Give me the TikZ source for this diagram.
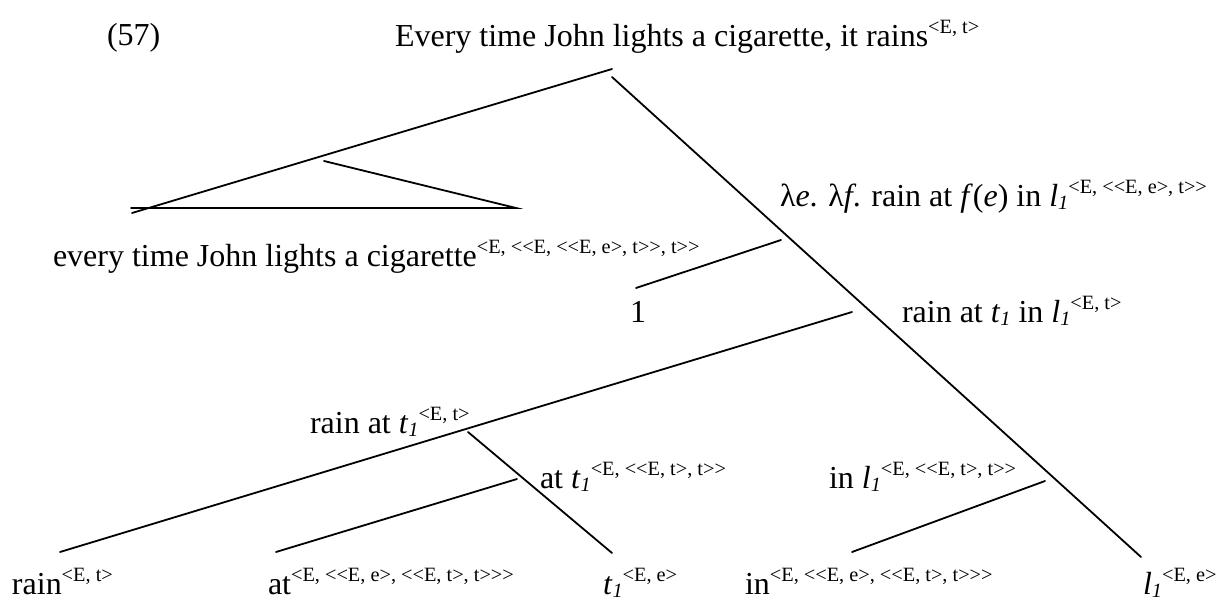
\documentclass[tikz,border=0pt]{standalone}
\usepackage{fontspec}
\setmainfont{Liberation Serif}[Ligatures=TeXOff]
\usetikzlibrary{calc}

\newcommand{\semtype}[1]{\raisebox{13pt}{\fontsize{20.3}{22}\selectfont #1}}
\newcommand{\lowidx}[1]{\raisebox{-3pt}{\fontsize{20.3}{22}\selectfont\itshape #1}}

\begin{document}
\begin{tikzpicture}[x=1pt, y=-1pt,
	every node/.style={inner sep=0pt, outer sep=0pt, anchor=base west, font=\fontsize{32}{38}\selectfont},
	branch/.style={line width=1.8pt, line cap=round}]
	
	\useasboundingbox (0,0) rectangle (1222,601);
	
	% heading and root
	\node (num) at (107,46) {(57)};
	\node (title) at (395,47) {Every time John lights a cigarette, it rains\semtype{<E, t>}};
	
	% end points of the branches
	\coordinate (top-l) at (612,69);
	\coordinate (top-r) at (612,77);
	\coordinate (every-end) at (132,213);
	\coordinate (tri-apex) at (324,161);
	\coordinate (tri-left) at (131,208);
	\coordinate (tri-right) at (516,208);
	\coordinate (l-end) at (1141,557);
	\coordinate (one-top) at (781,240);
	\coordinate (one-end) at (636,288);
	\coordinate (rain-top) at (852,312);
	\coordinate (rain-end) at (60,552);
	\coordinate (t-top) at (468,432);
	\coordinate (t-end) at (612,553);
	\coordinate (at-top) at (517,479);
	\coordinate (at-end) at (276,552);
	\coordinate (in-top) at (1045,481);
	\coordinate (in-end) at (852,552);
	
	\draw[branch] (top-l) -- (every-end);
	\draw[branch] (tri-apex) -- (tri-right) -- (tri-left);
	\draw[branch] (top-r) -- (l-end);
	\draw[branch] (one-top) -- (one-end);
	\draw[branch] (rain-top) -- (rain-end);
	\draw[branch] (t-top) -- (t-end);
	\draw[branch] (at-top) -- (at-end);
	\draw[branch] (in-top) -- (in-end);
	
	% labels of the inner nodes
	\node (every) at (53,267) {every time John lights a cigarette\semtype{<E, <<E, <<E, e>, t>>, t>>}};
	\node (lambda) at (780,207) {λ\textit{e}. λ\textit{f}. rain at \textit{f}(\textit{e}) in \textit{l}\lowidx{1}\semtype{<E, <<E, e>, t>>}};
	\node (one) at (630,322) {1};
	\node (rainatin) at (902,322) {rain at \textit{t}\lowidx{1} in \textit{l}\lowidx{1}\semtype{<E, t>}};
	\node (rainat) at (310,433) {rain at \textit{t}\lowidx{1}\semtype{<E, t>}};
	\node (att) at (540,488) {at \textit{t}\lowidx{1}\semtype{<E, <<E, t>, t>>}};
	\node (inl) at (829,488) {in \textit{l}\lowidx{1}\semtype{<E, <<E, t>, t>>}};
	
	% leaves
	\node (rain) at (12,594) {rain\semtype{<E, t>}};
	\node (at) at (268,594) {at\semtype{<E, <<E, e>, <<E, t>, t>>>}};
	\node (t) at (603,594) {\textit{t}\lowidx{1}\semtype{<E, e>}};
	\node (in) at (745,594) {in\semtype{<E, <<E, e>, <<E, t>, t>>>}};
	\node (l) at (1143,594) {\textit{l}\lowidx{1}\semtype{<E, e>}};
	
\end{tikzpicture}
\end{document}
